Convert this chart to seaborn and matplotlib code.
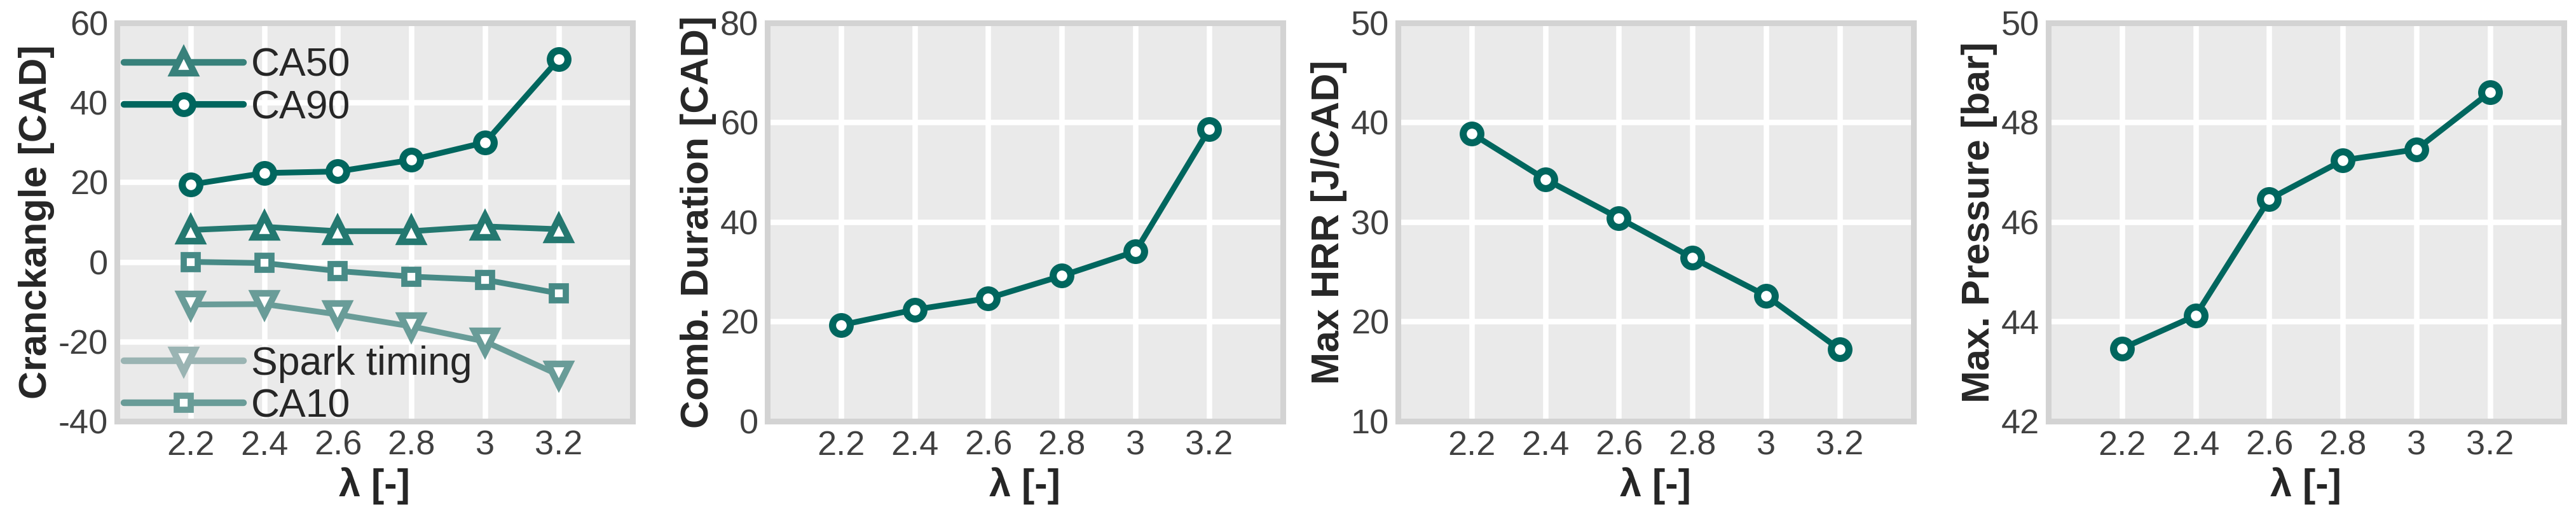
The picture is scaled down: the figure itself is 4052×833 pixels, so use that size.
import matplotlib as mpl
mpl.use('Agg')
import matplotlib.pyplot as plt
from matplotlib.lines import Line2D
import seaborn as sns
import pandas as pd

# lambda sweep
lam = [2.2, 2.4, 2.6, 2.8, 3.0, 3.2]
lam_labels = ['2.2', '2.4', '2.6', '2.8', '3', '3.2']

ca90 = [19.4, 22.3, 22.7, 25.6, 30.0, 50.9]
ca50 = [8.0, 8.8, 7.7, 7.7, 8.9, 8.2]
ca10 = [0.0, -0.3, -2.3, -3.7, -4.5, -7.9]
spark = [-10.7, -10.6, -13.2, -16.2, -20.0, -28.4]

comb_dur = [19.3, 22.4, 24.7, 29.2, 34.1, 58.6]
max_hrr = [38.9, 34.3, 30.4, 26.4, 22.6, 17.2]
max_p = [43.46, 44.12, 46.46, 47.24, 47.46, 48.61]

sns.set_theme(style='darkgrid', rc={'axes.facecolor': '#EAEAEA',
                                    'grid.color': 'white',
                                    'grid.linewidth': 6.2})
plt.rcParams['font.family'] = ['Liberation Sans', 'DejaVu Sans']
plt.rcParams['axes.unicode_minus'] = False

C90 = '#00665E'
C50 = '#247870'
C10 = '#478A86'
CSP = '#699C98'

df = pd.DataFrame({'lam': lam, 'CA90': ca90, 'CA50': ca50, 'CA10': ca10,
                   'Spark timing': spark, 'dur': comb_dur, 'hrr': max_hrr,
                   'p': max_p})

fig = plt.figure(figsize=(40.52, 8.33), dpi=100)
lefts = [0.04541, 0.29788, 0.54269, 0.79516]
axes = [fig.add_axes([l, 0.2053, 0.2001, 0.7515]) for l in lefts]

lw = 6.5
circ = dict(marker='o', markersize=20, markeredgewidth=8, markerfacecolor='white')
sq = dict(marker='s', markersize=16, markeredgewidth=7, markerfacecolor='white')
tri = dict(markersize=24, markeredgewidth=7.5, markerfacecolor='white')

ax = axes[0]
sns.lineplot(data=df, x='lam', y='Spark timing', ax=ax, color=CSP, lw=lw,
             marker='v', markeredgecolor=CSP, **tri)
sns.lineplot(data=df, x='lam', y='CA10', ax=ax, color=C10, lw=lw,
             markeredgecolor=C10, **sq)
sns.lineplot(data=df, x='lam', y='CA50', ax=ax, color=C50, lw=lw,
             marker='^', markeredgecolor=C50, **tri)
sns.lineplot(data=df, x='lam', y='CA90', ax=ax, color=C90, lw=lw,
             markeredgecolor=C90, **circ)

# legend handles are a shade lighter than the plotted lines
h50 = Line2D([], [], color='#38817B', lw=7.5, marker='^', markeredgecolor='#38817B', **tri)
h90 = Line2D([], [], color=C90, lw=7.5, markeredgecolor=C90, **circ)
hsp = Line2D([], [], color='#9AB4B3', lw=7.5, marker='v', markeredgecolor='#9AB4B3', **tri)
h10 = Line2D([], [], color='#699C98', lw=7.5, markeredgecolor='#699C98', **sq)
legkw = dict(frameon=False, fontsize=45, handlelength=3.0, handletextpad=0.2,
             labelspacing=0.12, borderpad=0, borderaxespad=0)
leg1 = ax.legend([h50, h90], ['CA50', 'CA90'], loc='upper left',
                 bbox_to_anchor=(0.0136, 0.94), **legkw)
ax.add_artist(leg1)
ax.legend([hsp, h10], ['Spark timing', 'CA10'], loc='lower left',
          bbox_to_anchor=(0.0136, -0.01), **legkw)
ax.set_ylim(-40, 60)
ax.set_yticks([-40, -20, 0, 20, 40, 60])
ax.set_ylabel('Cranckangle [CAD]')

sns.lineplot(data=df, x='lam', y='dur', ax=axes[1], color=C90, lw=lw,
             markeredgecolor=C90, **circ)
axes[1].set_ylim(0, 80)
axes[1].set_yticks([0, 20, 40, 60, 80])
axes[1].set_ylabel('Comb. Duration [CAD]')

sns.lineplot(data=df, x='lam', y='hrr', ax=axes[2], color=C90, lw=lw,
             markeredgecolor=C90, **circ)
axes[2].set_ylim(10, 50)
axes[2].set_yticks([10, 20, 30, 40, 50])
axes[2].set_ylabel('Max HRR [J/CAD]')

sns.lineplot(data=df, x='lam', y='p', ax=axes[3], color=C90, lw=lw,
             markeredgecolor=C90, **circ)
axes[3].set_ylim(42, 50)
axes[3].set_yticks([42, 44, 46, 48, 50])
axes[3].set_ylabel('Max. Pressure [bar]')

for ax in axes:
    ax.set_xlim(2.0, 3.4)
    ax.set_xticks(lam)
    ax.set_xticklabels(lam_labels)
    ax.set_xlabel('λ [-]', fontsize=44, fontweight='bold', labelpad=6)
    ax.yaxis.label.set_fontsize(44)
    ax.yaxis.label.set_fontweight('bold')
    ax.yaxis.labelpad = 4
    ax.tick_params(length=0, pad=10, labelsize=39, labelcolor='#404040')
    for s in ax.spines.values():
        s.set_visible(True)
        s.set_color('#D3D3D3')
        s.set_linewidth(6.5)

fig.savefig('out.png', dpi=100)
